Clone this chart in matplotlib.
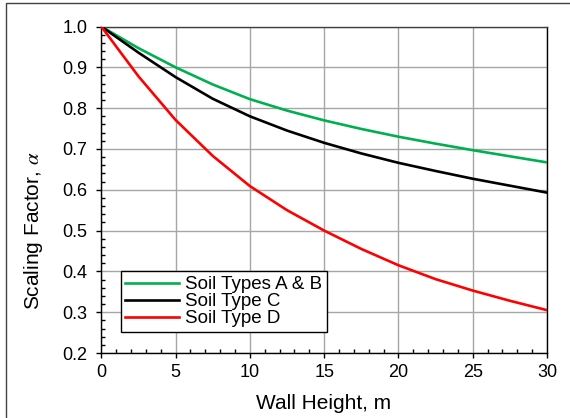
import matplotlib
matplotlib.use("Agg")
import matplotlib.pyplot as plt
from matplotlib.ticker import MultipleLocator, FormatStrFormatter
from matplotlib.patches import Rectangle

plt.rcParams["font.family"] = ["Liberation Sans", "DejaVu Sans"]
plt.rcParams["mathtext.fontset"] = "stix"

# Wall height (m) and scaling factor for each soil class
wall_height = [0, 2.5, 5, 7.5, 10, 12.5, 15, 17.5, 20, 22.5, 25, 27.5, 30]
alpha_ab = [1.000, 0.947, 0.900, 0.858, 0.822, 0.794, 0.770, 0.749, 0.730, 0.713, 0.697, 0.682, 0.667]
alpha_c = [1.000, 0.936, 0.876, 0.823, 0.780, 0.745, 0.715, 0.689, 0.666, 0.646, 0.627, 0.610, 0.593]
alpha_d = [1.000, 0.878, 0.771, 0.683, 0.609, 0.550, 0.500, 0.455, 0.415, 0.381, 0.353, 0.328, 0.305]

series_labels = ["Soil Types A & B", "Soil Type C", "Soil Type D"]
series_colors = ["#00B050", "#000000", "#FF0000"]

fig = plt.figure(figsize=(5.70, 4.18), dpi=100)
ax = fig.add_axes([0.1777, 0.1555, 0.7819, 0.7811])

# outer frame of the chart area (left and top edges visible)
fig.patches.append(Rectangle((6 / 570, -0.05), 1.2, 1.05 - 3 / 418, transform=fig.transFigure,
                             fill=False, edgecolor="#404040", linewidth=1.0, zorder=0))

for ys, lab, col in zip([alpha_ab, alpha_c, alpha_d], series_labels, series_colors):
    ax.plot(wall_height, ys, color=col, linewidth=1.9, label=lab, zorder=3)

ax.set_xlim(0, 30)
ax.set_ylim(0.2, 1.0)
ax.xaxis.set_major_locator(MultipleLocator(5))
ax.xaxis.set_minor_locator(MultipleLocator(1))
ax.yaxis.set_major_locator(MultipleLocator(0.1))
ax.yaxis.set_minor_locator(MultipleLocator(0.02))
ax.yaxis.set_major_formatter(FormatStrFormatter("%.1f"))

ax.grid(True, which="major", color="#A6A6A6", linewidth=1.0, zorder=1)
ax.set_axisbelow(True)

ax.tick_params(which="major", direction="out", length=3.9, width=1.0, labelsize=13, colors="black")
ax.tick_params(axis="x", which="major", pad=4.0)
ax.tick_params(axis="y", which="major", pad=6.0)
ax.tick_params(which="minor", direction="in", length=3.1, width=1.0)
for side in ["left", "bottom", "right"]:
    ax.spines[side].set_color("black")
    ax.spines[side].set_linewidth(1.0)
ax.spines["top"].set_color("#404040")
ax.spines["top"].set_linewidth(1.0)

ax.set_xlabel("Wall Height, m", fontsize=15)
ax.xaxis.set_label_coords(0.4986, -0.125)
ax.set_ylabel(r"Scaling Factor, $\alpha$", fontsize=15)
ax.yaxis.set_label_coords(-0.126, 0.374)

leg = ax.legend(loc="lower left", bbox_to_anchor=(0.0435, 0.0643), borderaxespad=0,
                fontsize=13.5, frameon=True, fancybox=False, framealpha=1,
                edgecolor="black", handlelength=2.85, handletextpad=0.33,
                labelspacing=0.0, borderpad=0.25)
leg.get_frame().set_linewidth(1.0)

fig.savefig("out.png", dpi=100)
